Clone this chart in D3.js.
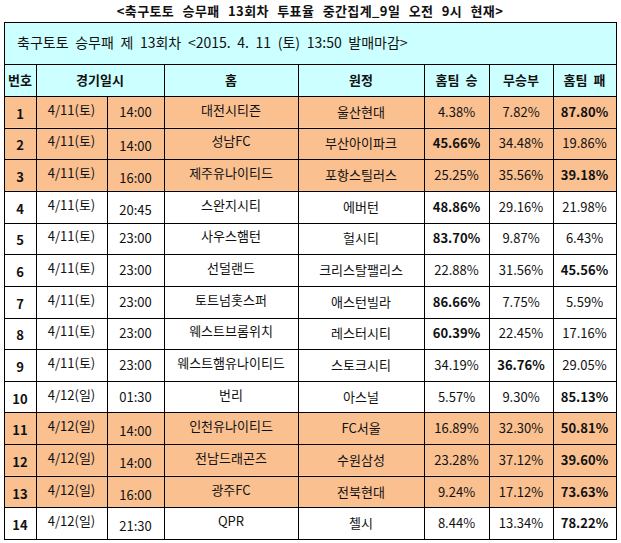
<!DOCTYPE html>
<html>
<head>
<meta charset="utf-8">
<script src="https://cdn.jsdelivr.net/npm/d3@7"></script>
<style>
  body { margin: 0; background: #fff; }
  text { font-family: "Noto Sans CJK KR", "Noto Sans", sans-serif; }
</style>
</head>
<body>
<div id="chart"></div>
<script>
var w = 621;
var h = 543;

var title = "<축구토토 승무패 13회차 투표율 중간집계_9일 오전 9시 현재>";
var subtitle = "축구토토 승무패 제 13회차 <2015. 4. 11 (토) 13:50 발매마감>";
var headers = ["번호", "경기일시", "홈", "원정", "홈팀 승", "무승부", "홈팀 패"];

var nums = [1, 2, 3, 4, 5, 6, 7, 8, 9, 10, 11, 12, 13, 14];
var dates = ["4/11(토)", "4/11(토)", "4/11(토)", "4/11(토)", "4/11(토)", "4/11(토)", "4/11(토)",
  "4/11(토)", "4/11(토)", "4/12(일)", "4/12(일)", "4/12(일)", "4/12(일)", "4/12(일)"];
var times = ["14:00", "14:00", "16:00", "20:45", "23:00", "23:00", "23:00",
  "23:00", "23:00", "01:30", "14:00", "14:00", "16:00", "21:30"];
var homeTeams = ["대전시티즌", "성남FC", "제주유나이티드", "스완지시티", "사우스햄턴", "선덜랜드", "토트넘홋스퍼",
  "웨스트브롬위치", "웨스트햄유나이티드", "번리", "인천유나이티드", "전남드래곤즈", "광주FC", "QPR"];
var awayTeams = ["울산현대", "부산아이파크", "포항스틸러스", "에버턴", "헐시티", "크리스탈팰리스", "애스턴빌라",
  "레스터시티", "스토크시티", "아스널", "FC서울", "수원삼성", "전북현대", "첼시"];
var winPct = [4.38, 45.66, 25.25, 48.86, 83.70, 22.88, 86.66, 60.39, 34.19, 5.57, 16.89, 23.28, 9.24, 8.44];
var drawPct = [7.82, 34.48, 35.56, 29.16, 9.87, 31.56, 7.75, 22.45, 36.76, 9.30, 32.30, 37.12, 17.12, 13.34];
var losePct = [87.80, 19.86, 39.18, 21.98, 6.43, 45.56, 5.59, 17.16, 29.05, 85.13, 50.81, 39.60, 73.63, 78.22];
var kLeague = [1, 2, 3, 11, 12, 13];

// layout
var colKeys = ["num", "date", "time", "home", "away", "win", "draw", "lose"];
var colEdges = [4, 36, 107, 164, 298, 424, 489, 553, 616];
var boxTop = 22, headTop = 64, bodyTop = 96, bodyBottom = 539;
var cyan = "#ccffff", orange = "#fac090";

var xLeft = d3.scaleOrdinal().domain(colKeys).range(colEdges.slice(0, 8));
var xRight = d3.scaleOrdinal().domain(colKeys).range(colEdges.slice(1));
function cx(k) { return (xLeft(k) + xRight(k)) / 2; }

var yScale = d3.scaleBand().domain(nums).range([bodyTop, bodyBottom]);

var rows = nums.map(function (n, i) {
  var m = d3.max([winPct[i], drawPct[i], losePct[i]]);
  return {
    num: n, date: dates[i], time: times[i], home: homeTeams[i], away: awayTeams[i],
    win: winPct[i], draw: drawPct[i], lose: losePct[i], max: m,
    k: kLeague.indexOf(n) >= 0
  };
});

var svg = d3.select("#chart").append("svg").attr("width", w).attr("height", h);

svg.append("text")
  .text(title)
  .attr("x", (colEdges[0] + colEdges[8]) / 2)
  .attr("y", 16)
  .attr("text-anchor", "middle")
  .attr("font-size", "13px")
  .attr("font-weight", "bold")
  .attr("word-spacing", "5px")
  .attr("letter-spacing", "0.4px")
  .attr("fill", "#111");

// title box + header background
svg.append("rect")
  .attr("x", colEdges[0]).attr("y", boxTop)
  .attr("width", colEdges[8] - colEdges[0]).attr("height", bodyTop - boxTop)
  .attr("fill", cyan);

svg.append("text")
  .text(subtitle)
  .attr("x", 17)
  .attr("y", (boxTop + headTop) / 2 + 5)
  .attr("font-size", "14px")
  .attr("word-spacing", "3.5px")
  .attr("fill", "#111");

// row backgrounds
svg.selectAll("rect.row")
  .data(rows)
  .enter()
  .append("rect")
  .attr("class", "row")
  .attr("x", colEdges[0])
  .attr("y", function (d) { return yScale(d.num); })
  .attr("width", colEdges[8] - colEdges[0])
  .attr("height", yScale.bandwidth())
  .attr("fill", function (d) { return d.k ? orange : "#fff"; });

// header labels
var headPos = [cx("num"), (xLeft("date") + xRight("time")) / 2, cx("home"), cx("away"), cx("win"), cx("draw"), cx("lose")];
svg.selectAll("text.head")
  .data(headers)
  .enter()
  .append("text")
  .attr("class", "head")
  .text(function (d) { return d; })
  .attr("x", function (d, i) { return headPos[i]; })
  .attr("y", (headTop + bodyTop) / 2 + 5)
  .attr("text-anchor", "middle")
  .attr("font-size", "13px")
  .attr("font-weight", "bold")
  .attr("word-spacing", "3px")
  .attr("fill", "#111");

// cells
var lowTime = [2, 3, 4, 11, 12, 13, 14];
var cellCols = [
  { key: "num", fmt: function (d) { return d.num; }, bold: function () { return true; }, dy: 7 },
  { key: "date", fmt: function (d) { return d.date; }, bold: function () { return false; }, dy: 3 },
  { key: "time", fmt: function (d) { return d.time; }, bold: function () { return false; },
    dy: function (d) { return lowTime.indexOf(d.num) >= 0 ? 8 : 5; } },
  { key: "home", fmt: function (d) { return d.home; }, bold: function () { return false; }, dy: 3 },
  { key: "away", fmt: function (d) { return d.away; }, bold: function () { return false; }, dy: 5 },
  { key: "win", fmt: function (d) { return d.win.toFixed(2) + "%"; }, bold: function (d) { return d.win === d.max; }, dy: 5 },
  { key: "draw", fmt: function (d) { return d.draw.toFixed(2) + "%"; }, bold: function (d) { return d.draw === d.max; }, dy: 5 },
  { key: "lose", fmt: function (d) { return d.lose.toFixed(2) + "%"; }, bold: function (d) { return d.lose === d.max; }, dy: 5 }
];

cellCols.forEach(function (c) {
  svg.selectAll("text.c-" + c.key)
    .data(rows)
    .enter()
    .append("text")
    .attr("class", "c-" + c.key)
    .text(c.fmt)
    .attr("x", cx(c.key))
    .attr("y", function (d) {
      var off = typeof c.dy === "function" ? c.dy(d) : c.dy;
      return yScale(d.num) + yScale.bandwidth() / 2 + off;
    })
    .attr("text-anchor", "middle")
    .attr("font-size", "13px")
    .attr("font-weight", function (d) { return c.bold(d) ? "bold" : "normal"; })
    .attr("fill", "#111");
});

// grid lines
var grid = svg.append("g")
  .attr("stroke", "#000")
  .attr("stroke-width", 1)
  .attr("shape-rendering", "crispEdges");

var hLines = [headTop, bodyTop].concat(nums.slice(1).map(function (n) { return yScale(n); }));
grid.selectAll("line.h")
  .data(hLines)
  .enter()
  .append("line")
  .attr("x1", colEdges[0]).attr("x2", colEdges[8])
  .attr("y1", function (d) { return Math.round(d) + 0.5; })
  .attr("y2", function (d) { return Math.round(d) + 0.5; });

// vertical dividers: header row uses merged date/time cell
grid.selectAll("line.v")
  .data(colEdges.slice(1, 8))
  .enter()
  .append("line")
  .attr("x1", function (d) { return d + 0.5; })
  .attr("x2", function (d) { return d + 0.5; })
  .attr("y1", function (d) { return d === xLeft("time") ? bodyTop : headTop; })
  .attr("y2", bodyBottom);

grid.append("rect")
  .attr("x", colEdges[0] + 0.5).attr("y", boxTop + 0.5)
  .attr("width", colEdges[8] - colEdges[0]).attr("height", bodyBottom - boxTop)
  .attr("fill", "none")
  .attr("stroke-width", 1.5);
</script>
</body>
</html>
